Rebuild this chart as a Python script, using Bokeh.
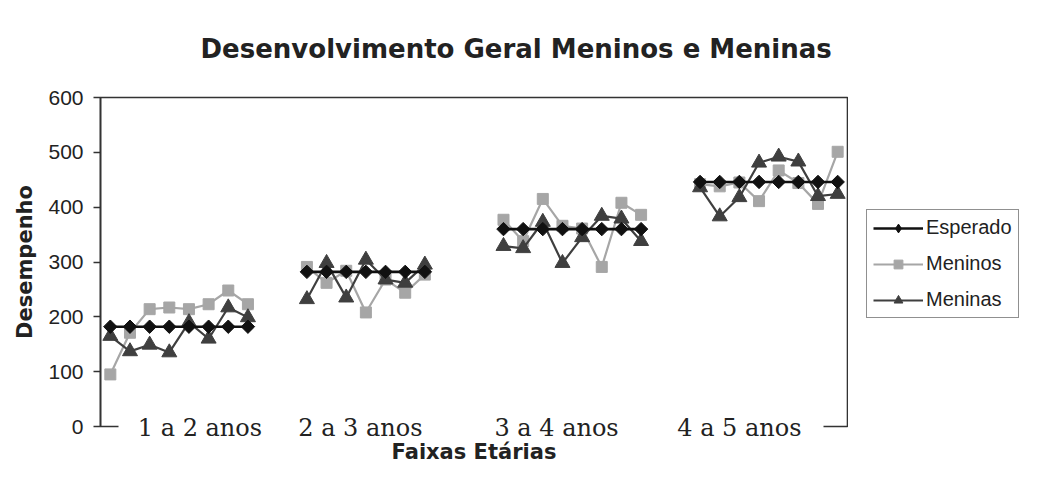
import math
from bokeh.plotting import figure
from bokeh.layouts import row
from bokeh.models import (Range1d, FixedTicker, Legend, LegendItem,
                          ColumnDataSource, CustomJSTickFormatter)
from bokeh.embed import file_html
from bokeh.resources import INLINE

# ---------------- data ----------------
title_text = "Desenvolvimento Geral Meninos e Meninas"
x_title = "Faixas Etárias"
y_title = "Desempenho"
age_groups = ["1 a 2 anos", "2 a 3 anos", "3 a 4 anos", "4 a 5 anos"]
y_ticks = [0, 100, 200, 300, 400, 500, 600]
series_names = ["Esperado", "Meninos", "Meninas"]

# 38 category slots (None = empty slot between age groups)
esperado = [182, 182, 182, 182, 182, 182, 182, 182, None, None,
            282, 282, 282, 282, 282, 282, 282, None, None, None,
            360, 360, 360, 360, 360, 360, 360, 360, None, None,
            446, 446, 446, 446, 446, 446, 446, 446]
meninos = [95, 171, 214, 217, 214, 223, 248, 223, None, None,
           291, 262, 284, 208, 268, 244, 277, None, None, None,
           377, 338, 415, 366, 361, 291, 408, 386, None, None,
           442, 438, 445, 411, 467, 444, 406, 501]
meninas = [165, 137, 149, 135, 190, 160, 217, 199, None, None,
           232, 298, 235, 304, 268, 262, 295, None, None, None,
           329, 325, 373, 298, 345, 384, 379, 338, None, None,
           436, 383, 418, 481, 492, 483, 420, 424]

# ---------------- layout / style ----------------
W, H = 1021, 466
MAIN_W = 848
GROUP_LABEL_X = [4.56, 12.72, 22.7, 32]   # label centres in category units
LINE_GAP = (0.42, 36.27)                  # part of the bottom border hidden by labels
TEXT = "#222222"
FRAME = "#333333"
C_ESP, C_MEN, C_MNA = "#111111", "#a6a6a6", "#3f3f3f"

n = len(esperado)
xs = list(range(n))

def clean(v):
    return [float("nan") if a is None else a for a in v]

src = ColumnDataSource(dict(x=xs, esp=clean(esperado), men=clean(meninos), mna=clean(meninas)))

p = figure(width=MAIN_W, height=H, output_backend="svg", toolbar_location=None,
           x_range=Range1d(-0.5, n - 0.5), y_range=Range1d(0, 600),
           min_border_left=100, min_border_right=1, min_border_top=97,
           min_border_bottom=35)
p.background_fill_color = "white"
p.border_fill_color = "white"
p.outline_line_color = FRAME
p.outline_line_width = 1.6
p.xgrid.visible = False
p.ygrid.visible = False

# title
p.title.text = title_text
p.title.align = "left"
p.title.vertical_align = "top"
p.title.offset = 100
p.title.standoff = 64
p.title.text_font = "DejaVu Sans"
p.title.text_font_style = "bold"
p.title.text_font_size = "26px"
p.title.text_color = TEXT

# x axis: white line hides the border behind the category labels
xax = p.below[0]
xax.bounds = LINE_GAP
xax.axis_line_color = "white"
xax.axis_line_width = 5
xax.ticker = FixedTicker(ticks=GROUP_LABEL_X)
xax.formatter = CustomJSTickFormatter(args=dict(names=age_groups),
                                      code="return names[index];")
xax.major_tick_out = 0
xax.major_tick_in = 0
xax.major_tick_line_color = None
xax.minor_tick_line_color = None
xax.major_label_standoff = -13
xax.major_label_text_font = "DejaVu Serif"
xax.major_label_text_font_size = "24px"
xax.major_label_text_color = TEXT
xax.axis_label = x_title
xax.axis_label_text_font = "DejaVu Sans"
xax.axis_label_text_font_style = "bold"
xax.axis_label_text_font_size = "21px"
xax.axis_label_text_color = TEXT
xax.axis_label_standoff = -5

yax = p.left[0]
yax.ticker = FixedTicker(ticks=y_ticks)
yax.axis_line_color = FRAME
yax.axis_line_width = 1.6
yax.major_tick_line_color = FRAME
yax.major_tick_line_width = 1.6
yax.major_tick_out = 7
yax.major_tick_in = 0
yax.minor_tick_line_color = None
yax.major_label_standoff = 10
yax.major_label_text_font = "Liberation Sans"
yax.major_label_text_font_size = "21px"
yax.major_label_text_color = TEXT
yax.axis_label = y_title
yax.axis_label_text_font = "DejaVu Sans"
yax.axis_label_text_font_style = "bold"
yax.axis_label_text_font_size = "21px"
yax.axis_label_text_color = TEXT
yax.axis_label_standoff = 8

def draw_series(fig):
    r = {}
    r["men_l"] = fig.line("x", "men", source=src, line_color=C_MEN, line_width=2.2)
    r["men_s"] = fig.scatter("x", "men", source=src, marker="square", size=11,
                             fill_color=C_MEN, line_color=C_MEN)
    r["mna_l"] = fig.line("x", "mna", source=src, line_color=C_MNA, line_width=2.2)
    r["mna_s"] = fig.scatter("x", "mna", source=src, marker="triangle", size=15,
                             fill_color=C_MNA, line_color=C_MNA)
    r["esp_l"] = fig.line("x", "esp", source=src, line_color=C_ESP, line_width=2.6)
    return r

draw_series(p)
p.scatter("x", "esp", source=src, marker="square", size=9.5, angle=math.pi / 4,
          fill_color=C_ESP, line_color=C_ESP)

# legend panel: a second canvas on the right (its ranges show no data)
lf = figure(width=W - MAIN_W, height=H, output_backend="svg", toolbar_location=None,
            x_range=Range1d(-1001, -1000), y_range=Range1d(-1001, -1000),
            x_axis_location=None, y_axis_location=None, min_border=0)
lf.outline_line_color = None
lf.background_fill_color = "white"
lf.border_fill_color = "white"
lf.xgrid.visible = False
lf.ygrid.visible = False
lr = draw_series(lf)
lr["esp_s"] = lf.scatter("x", "esp", source=src, marker="diamond", size=12,
                         fill_color=C_ESP, line_color=C_ESP)

legend = Legend(items=[
    LegendItem(label=series_names[0], renderers=[lr["esp_l"], lr["esp_s"]]),
    LegendItem(label=series_names[1], renderers=[lr["men_l"], lr["men_s"]]),
    LegendItem(label=series_names[2], renderers=[lr["mna_l"], lr["mna_s"]]),
], location=(18, 108))
legend.glyph_width = 50
legend.glyph_height = 22
legend.label_height = 22
legend.label_standoff = 3
legend.spacing = 13
legend.padding = 6
legend.margin = 0
legend.label_text_font = "Liberation Sans"
legend.label_text_font_size = "20px"
legend.label_text_color = TEXT
legend.border_line_color = "#222222"
legend.border_line_width = 1.6
legend.background_fill_color = "white"
legend.background_fill_alpha = 1.0
lf.add_layout(legend, "center")

layout = row(p, lf, spacing=0)
open("out.html", "w").write(file_html(layout, INLINE))
